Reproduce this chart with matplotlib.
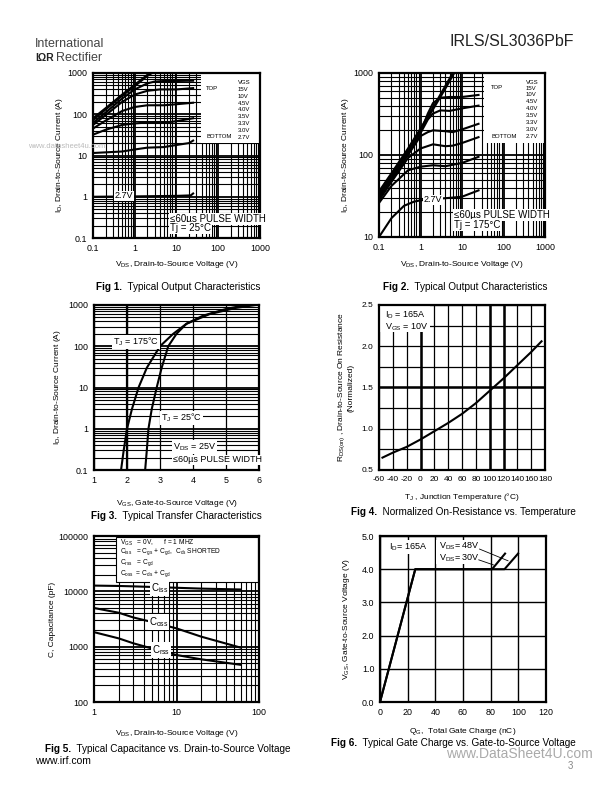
import matplotlib
matplotlib.use('Agg')
import matplotlib.pyplot as plt
from matplotlib.ticker import LogLocator, NullFormatter, FuncFormatter, MultipleLocator
from matplotlib.patches import Rectangle
from matplotlib.text import Annotation

plt.rcParams['font.family'] = ['Liberation Sans', 'DejaVu Sans']
plt.rcParams['mathtext.fontset'] = 'custom'
plt.rcParams['mathtext.rm'] = 'Liberation Sans'
plt.rcParams['mathtext.it'] = 'Liberation Sans'
plt.rcParams['mathtext.default'] = 'regular'
plt.rcParams['axes.unicode_minus'] = False

# ---------------- data ----------------
# Fig 1: output characteristics, Tj = 25 C
fig1_vgs = ["15V", "10V", "4.5V", "4.0V", "3.5V", "3.3V", "3.0V", "2.7V"]
fig1_vds = [
    [0.1, 0.2, 0.5, 1, 2, 2.4],
    [0.1, 0.2, 0.5, 1, 2, 2.6],
    [0.1, 0.2, 0.5, 1, 2, 3, 5, 10, 25],
    [0.1, 0.2, 0.5, 1, 2, 4, 10, 25],
    [0.1, 0.2, 0.5, 1, 2, 5, 10, 25],
    [0.1, 0.2, 0.5, 1, 2, 5, 10, 25],
    [0.1, 0.5, 1, 2, 5, 10, 20, 25],
    [0.1, 1, 10, 22, 25],
]
fig1_id = [
    [80, 140, 300, 520, 900, 1000],
    [72, 130, 280, 480, 850, 1000],
    [62, 110, 240, 400, 560, 620, 640, 640, 650],
    [55, 95, 200, 300, 370, 400, 400, 430],
    [45, 70, 120, 150, 165, 165, 175, 190],
    [32, 42, 55, 60, 63, 62, 68, 80],
    [11.5, 12.5, 14, 15.5, 16, 18, 20, 23],
    [1.0, 1.02, 1.05, 1.08, 1.2],
]
# Fig 2: output characteristics, Tj = 175 C
fig2_vds = [
    [0.1, 0.2, 0.5, 1, 2, 4, 6],
    [0.1, 0.2, 0.5, 1, 2, 4, 6.5],
    [0.1, 0.2, 0.5, 1, 1.5, 2, 3, 5, 10, 25],
    [0.1, 0.2, 0.5, 1, 1.5, 2, 3, 5, 10, 25],
    [0.1, 0.2, 0.5, 1, 1.5, 2, 4, 6, 10, 25],
    [0.1, 0.2, 0.5, 1, 2, 4, 6, 10, 25],
    [0.1, 0.2, 0.5, 1, 2, 4, 10, 25],
    [0.1, 0.2, 0.4, 0.7, 1, 2, 5, 10, 25],
]
fig2_id = [
    [36, 60, 120, 210, 380, 700, 1000],
    [34, 57, 115, 200, 360, 650, 1000],
    [32, 55, 110, 190, 320, 430, 500, 510, 510, 540],
    [31, 52, 105, 185, 270, 320, 350, 345, 370, 400],
    [30, 50, 100, 170, 190, 200, 195, 190, 205, 240],
    [28, 47, 92, 120, 135, 128, 130, 140, 165],
    [26, 42, 65, 72, 75, 73, 80, 95],
    [10, 17, 24, 27, 28, 29, 30, 31, 37],
]
# Fig 3: transfer characteristics
fig3_vgs_25 = [2.55, 2.6, 2.65, 2.75, 2.9, 3.05, 3.25, 3.5, 3.8, 4.3, 5.0, 5.6]
fig3_id_25 = [0.1, 0.3, 1, 3, 10, 30, 100, 200, 350, 550, 800, 1000]
fig3_vgs_175 = [1.82, 1.9, 2.0, 2.15, 2.35, 2.6, 3.0, 3.4, 3.8, 4.5, 5.3, 5.9]
fig3_id_175 = [0.1, 0.3, 1, 3, 10, 30, 100, 200, 350, 600, 850, 1000]
# Fig 4: normalized on-resistance
fig4_tj = [-55, -40, -20, 0, 20, 40, 60, 80, 100, 120, 140, 160, 175]
fig4_rds = [0.65, 0.71, 0.78, 0.87, 0.97, 1.07, 1.18, 1.31, 1.46, 1.61, 1.77, 1.93, 2.06]
# Fig 5: capacitance
fig5_vds = [1, 2, 3, 5, 10, 20, 60]
fig5_ciss = [12700, 12500, 12300, 12000, 11600, 11200, 10800]
fig5_coss = [5000, 4100, 3370, 2800, 2140, 1515, 960]
fig5_crss = [1830, 1410, 1150, 930, 707, 590, 470]
# Fig 6: gate charge
fig6_qg_30 = [0, 25.5, 81, 90.4]
fig6_vgs_30 = [0, 4.0, 4.0, 4.47]
fig6_qg_48 = [0, 25.5, 90, 99.8]
fig6_vgs_48 = [0, 4.0, 4.0, 4.47]

# ---------------- layout helpers ----------------
W, H = 612, 792
fig = plt.figure(figsize=(W / 100, H / 100), dpi=100)


def rect(l, t, r, b):
    return [l / W, 1 - b / H, (r - l) / W, (b - t) / H]


def fx(x):
    return x / W


def fy(y):
    return 1 - y / H


def ptext(x, y, s, size=6, ha='left', va='center', box=False, **kw):
    bb = dict(facecolor='white', edgecolor='none', pad=0.6) if box else None
    return fig.text(fx(x), fy(y), s, fontsize=size, ha=ha, va=va, bbox=bb, zorder=5, **kw)


def whitebox(ax, l, t, r, b):
    ax.add_patch(Rectangle((fx(l), fy(b)), (r - l) / W, (b - t) / H, transform=fig.transFigure,
                           facecolor='white', edgecolor='none', zorder=2.2, clip_on=False))


def style(ax):
    for s in ax.spines.values():
        s.set_linewidth(1.6)
    ax.tick_params(which='both', length=0, labelsize=6.4, pad=4)


fmt = FuncFormatter(lambda v, p: '%g' % v)


def loggrid(ax, xlog=True, ylog=True):
    if xlog:
        ax.set_xscale('log')
        ax.xaxis.set_major_locator(LogLocator(10))
        ax.xaxis.set_minor_locator(LogLocator(10, subs=range(2, 10)))
        ax.xaxis.set_major_formatter(fmt)
        ax.xaxis.set_minor_formatter(NullFormatter())
    if ylog:
        ax.set_yscale('log')
        ax.yaxis.set_major_locator(LogLocator(10))
        ax.yaxis.set_minor_locator(LogLocator(10, subs=range(2, 10)))
        ax.yaxis.set_major_formatter(fmt)
        ax.yaxis.set_minor_formatter(NullFormatter())
    ax.grid(which='major', color='black', lw=1.3)
    ax.grid(which='minor', color='black', lw=0.8)


LW = 1.5

# ---------------- Fig 1 ----------------
ax1 = fig.add_axes(rect(93, 73, 260, 238))
loggrid(ax1)
ax1.set_xlim(0.1, 1000)
ax1.set_ylim(0.1, 1000)
for xs, ys in zip(fig1_vds, fig1_id):
    ax1.plot(xs, ys, color='black', lw=LW, clip_on=True, zorder=3)
style(ax1)
ax1.set_xlabel(r'V$_{DS}$, Drain-to-Source Voltage (V)', fontsize=6, labelpad=5)
ax1.set_ylabel(r'I$_D$, Drain-to-Source Current (A)', fontsize=6, labelpad=2)
whitebox(ax1, 201, 74, 258.5, 143)
ptext(238, 83, 'VGS', size=4.3)
ptext(206, 89, 'TOP', size=4.3)
ptext(206, 137, 'BOTTOM', size=4.3)
for i, lab in enumerate(fig1_vgs):
    ptext(238, 89.5 + i * 6.8, lab, size=4.3)
ptext(115, 196, '2.7V', size=6.5, box=True)
ptext(170, 219, '≤60µs PULSE WIDTH', size=7, box=True)
ptext(170, 228, 'Tj = 25°C', size=7, box=True)

# ---------------- Fig 2 ----------------
ax2 = fig.add_axes(rect(379, 73, 545, 237))
loggrid(ax2)
ax2.set_xlim(0.1, 1000)
ax2.set_ylim(10, 1000)
for xs, ys in zip(fig2_vds, fig2_id):
    ax2.plot(xs, ys, color='black', lw=LW, zorder=3)
style(ax2)
ax2.set_xlabel(r'V$_{DS}$, Drain-to-Source Voltage (V)', fontsize=6, labelpad=5)
ax2.set_ylabel(r'I$_D$, Drain-to-Source Current (A)', fontsize=6, labelpad=2)
whitebox(ax2, 484, 74, 543.5, 143)
ptext(526, 82, 'VGS', size=4.3)
ptext(491, 87.5, 'TOP', size=4.3)
ptext(491, 136, 'BOTTOM', size=4.3)
for i, lab in enumerate(fig1_vgs):
    ptext(526, 88 + i * 6.9, lab, size=4.3)
ptext(424, 200, '2.7V', size=6.5, box=True)
ptext(454, 215, '≤60µs PULSE WIDTH', size=7, box=True)
ptext(454, 225, 'Tj = 175°C', size=7, box=True)

# ---------------- Fig 3 ----------------
ax3 = fig.add_axes(rect(94, 305, 259, 470))
loggrid(ax3, xlog=False, ylog=True)
ax3.set_xlim(1, 6)
ax3.set_ylim(0.1, 1000)
ax3.xaxis.set_major_locator(MultipleLocator(1))
ax3.xaxis.set_major_formatter(fmt)
ax3.grid(which='major', axis='x', color='black', lw=0.9)
ax3.axvline(2, color='black', lw=1.6, zorder=1)
ax3.plot(fig3_vgs_175, fig3_id_175, color='black', lw=LW, zorder=3)
ax3.plot(fig3_vgs_25, fig3_id_25, color='black', lw=LW, zorder=3)
style(ax3)
ax3.set_xlabel(r'V$_{GS}$, Gate-to-Source Voltage (V)', fontsize=6, labelpad=10)
ax3.set_ylabel(r'I$_D$, Drain-to-Source Current (A)', fontsize=6, labelpad=4)
ptext(113, 342, r'T$_J$ = 175°C', size=6.5, box=True)
ptext(161, 418, r'T$_J$ = 25°C', size=6.5, box=True)
ptext(173, 447, r'V$_{DS}$ = 25V', size=6.5, box=True)
ptext(173, 460, '≤60µs PULSE WIDTH', size=6.5, box=True)

# ---------------- Fig 4 ----------------
ax4 = fig.add_axes(rect(379, 305, 545, 470))
ax4.set_xlim(-60, 180)
ax4.set_ylim(0.5, 2.5)
ax4.xaxis.set_major_locator(MultipleLocator(20))
ax4.yaxis.set_major_locator(MultipleLocator(0.5))
ax4.yaxis.set_minor_locator(MultipleLocator(0.25))
ax4.yaxis.set_major_formatter(FuncFormatter(lambda v, p: '%.1f' % v))
ax4.grid(which='major', color='black', lw=0.9)
ax4.grid(which='minor', axis='y', color='black', lw=0.9)
for xv in (0, 100, 120):
    ax4.axvline(xv, color='black', lw=1.8, zorder=1)
ax4.axhline(1.5, color='black', lw=1.8, zorder=1)
ax4.plot(fig4_tj, fig4_rds, color='black', lw=LW, zorder=3)
style(ax4)
ax4.tick_params(labelsize=6)
ax4.set_xlabel(r'T$_J$ , Junction Temperature (°C)', fontsize=6, labelpad=6)
ax4.set_ylabel(r'R$_{DS(on)}$ , Drain-to-Source On Resistance' + '\n(Normalized)', fontsize=6, labelpad=5)
whitebox(ax4, 380, 306, 430, 332)
ptext(385, 315, r'I$_D$ = 165A', size=6.5)
ptext(385, 327, r'V$_{GS}$ = 10V', size=6.5)

# ---------------- Fig 5 ----------------
ax5 = fig.add_axes(rect(94, 536, 259, 702))
loggrid(ax5)
ax5.set_xlim(1, 100)
ax5.set_ylim(100, 100000)
ax5.plot(fig5_vds, fig5_ciss, color='black', lw=LW, zorder=3)
ax5.plot(fig5_vds, fig5_coss, color='black', lw=LW, zorder=3)
ax5.plot(fig5_vds, fig5_crss, color='black', lw=LW, zorder=3)
style(ax5)
ax5.set_xlabel(r'V$_{DS}$, Drain-to-Source Voltage (V)', fontsize=6, labelpad=8)
ax5.set_ylabel('C, Capacitance (pF)', fontsize=6, labelpad=2)
ax5.add_patch(Rectangle((fx(116), fy(582)), (258 - 116) / W, (582 - 537) / H, transform=fig.transFigure,
                        facecolor='white', edgecolor='black', lw=0.8, zorder=2.2, clip_on=False))
ptext(120, 543, r'V$_{GS}$   = 0V,      f = 1 MHZ', size=4.8)
ptext(120, 552, r'C$_{iss}$   = C$_{gs}$ + C$_{gd}$,  C$_{ds}$ SHORTED', size=4.8)
ptext(120, 563, r'C$_{rss}$   = C$_{gd}$', size=4.8)
ptext(120, 574, r'C$_{oss}$  = C$_{ds}$ + C$_{gd}$', size=4.8)
ptext(151, 588, r'C$_{iss}$', size=7, box=True)
ptext(149, 622, r'C$_{oss}$', size=7, box=True)
ptext(152, 650, r'C$_{rss}$', size=7, box=True)

# ---------------- Fig 6 ----------------
ax6 = fig.add_axes(rect(380, 536, 546, 702))
ax6.set_xlim(0, 120)
ax6.set_ylim(0, 5)
ax6.xaxis.set_major_locator(MultipleLocator(20))
ax6.yaxis.set_major_locator(MultipleLocator(1))
ax6.yaxis.set_major_formatter(FuncFormatter(lambda v, p: '%.1f' % v))
ax6.grid(which='major', color='black', lw=1.0)
ax6.plot(fig6_qg_30, fig6_vgs_30, color='black', lw=LW, zorder=3)
ax6.plot(fig6_qg_48, fig6_vgs_48, color='black', lw=LW, zorder=3)
style(ax6)
ax6.set_xlabel(r'Q$_G$,  Total Gate Charge (nC)', fontsize=6, labelpad=7)
ax6.set_ylabel(r'V$_{GS}$, Gate-to-Source Voltage (V)', fontsize=6, labelpad=7)
whitebox(ax6, 436, 540, 478, 564)
ptext(389, 547, r'I$_D$= 165A', size=6.5, box=True)
ptext(439, 546, r'V$_{DS}$= 48V', size=6.5)
ptext(439, 558, r'V$_{DS}$= 30V', size=6.5)
ax6.annotate('', xy=(94.5, 4.22), xytext=(70, 4.64),
             arrowprops=dict(arrowstyle='-', lw=0.6, color='black'), zorder=4)
ax6.annotate('', xy=(84, 4.1), xytext=(69.4, 4.31),
             arrowprops=dict(arrowstyle='-', lw=0.6, color='black'), zorder=4)

# ---------------- captions & page text ----------------
def caption(x, y, bold, rest):
    t = ptext(x, y, bold, size=7.2, va='bottom', weight='bold')
    fig.add_artist(Annotation(rest, xy=(1, 0), xycoords=t, fontsize=7.2, va='bottom', ha='left'))


caption(96, 292, 'Fig 1.', '  Typical Output Characteristics')
caption(383, 292, 'Fig 2.', '  Typical Output Characteristics')
caption(91, 521, 'Fig 3.', '  Typical Transfer Characteristics')
caption(351, 517, 'Fig 4.', '  Normalized On-Resistance vs. Temperature')
caption(45, 754, 'Fig 5.', '  Typical Capacitance vs. Drain-to-Source Voltage')
caption(331, 748, 'Fig 6.', '  Typical Gate Charge vs. Gate-to-Source Voltage')

ptext(35, 44, 'International', size=9, color='#444444')
ptext(35, 58, 'IΩR', size=7.5, weight='bold', color='#222222')
ptext(56, 58, 'Rectifier', size=9, color='#444444')
ptext(574, 42, 'IRLS/SL3036PbF', size=11.5, ha='right', color='#222222')
ptext(35, 761, 'www.irf.com', size=7.5)
ptext(446, 754, 'www.DataSheet4U.com', size=10, color='#aaaaaa')
ptext(568, 766, '3', size=7, color='#888888')
ptext(28, 146, 'www.datasheet4u.com', size=5.5, color='#bbbbbb')

fig.savefig('out.png', dpi=100, facecolor='white')
